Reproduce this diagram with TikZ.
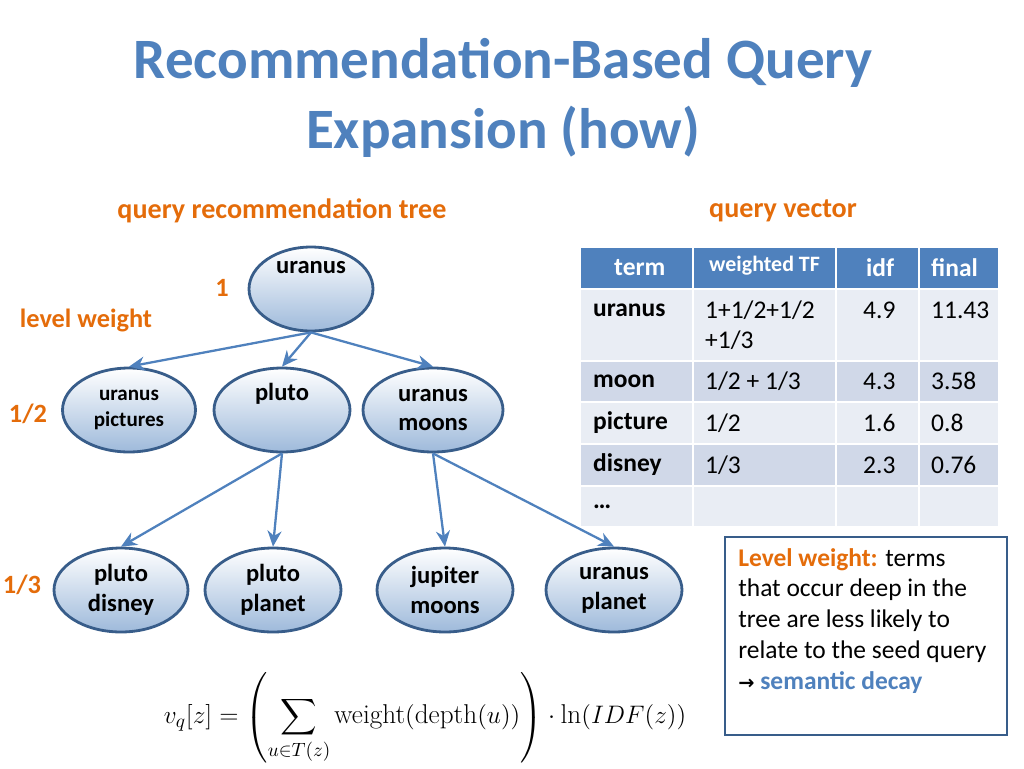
\documentclass[tikz,border=0pt]{standalone}
\usepackage{amsmath}
\usepackage{fontspec}
\setmainfont{Carlito}
\newfontfamily\lmfont{Latin Modern Roman}
\usetikzlibrary{positioning, arrows.meta, shapes.geometric}
\definecolor{titleblue}{RGB}{79,129,189}
\definecolor{edgeblue}{RGB}{56,93,138}
\definecolor{orange}{RGB}{228,108,10}
\definecolor{rowa}{RGB}{233,237,244}
\definecolor{rowb}{RGB}{208,216,232}
\begin{document}
\begin{tikzpicture}[x=0.02cm, y=-0.02cm,
    termnode/.style={ellipse, draw=edgeblue, line width=1.6pt, top color=white, bottom color=titleblue!55, minimum width=2.66cm, minimum height=1.68cm, inner sep=0pt, align=center, font=\fontsize{14}{17}\selectfont\bfseries},
    arrow/.style={-{Stealth[length=9pt,width=8pt]}, line width=1.3pt, draw=titleblue},
    weightlabel/.style={text=orange, font=\fontsize{15}{18}\selectfont\bfseries},
    cell/.style={anchor=west, font=\fontsize{14.5}{17}\selectfont}
]
\useasboundingbox (0,0) rectangle (1024,768);

% title
\node[text=titleblue, font=\fontsize{32.5}{40}\selectfont\bfseries, align=center] (title) at (503,98) {Recommendation-Based Query\\Expansion (how)};
\node[weightlabel, font=\fontsize{16}{19}\selectfont\bfseries] (treehead) at (282,211) {query recommendation tree};
\node[weightlabel, font=\fontsize{16}{19}\selectfont\bfseries] (vechead) at (783,211) {query vector};

% tree
\node[termnode, minimum width=2.48cm] (uranus) at (311,289) {uranus\\[8pt]};
\node[termnode, font=\fontsize{12}{15}\selectfont\bfseries] (upictures) at (129,410) {uranus\\pictures};
\node[termnode, minimum width=2.72cm] (pluto) at (282,410) {pluto\\[4pt]};
\node[termnode, minimum width=2.8cm] (umoons) at (433,410) {uranus\\moons};
\node[termnode, minimum width=2.68cm] (pdisney) at (121,590) {pluto\\disney};
\node[termnode, minimum width=2.72cm] (pplanet) at (273,590) {pluto\\planet};
\node[termnode, minimum width=2.72cm] (jmoons) at (445,590) {jupiter\\moons};
\node[termnode, minimum width=2.72cm] (uplanet) at (614,590) {uranus\\planet};

\draw[arrow] (uranus.south) -- (upictures.north);
\draw[arrow] (uranus.south) -- (pluto.north);
\draw[arrow] (uranus.south) -- (umoons.north);
\draw[arrow] (pluto.south) -- (pdisney.north);
\draw[arrow] (pluto.south) -- (pplanet.north);
\draw[arrow] (umoons.south) -- (jmoons.north);
\draw[arrow] (umoons.south) -- (uplanet.north);

\node[weightlabel] (w1) at (222,288) {1};
\node[weightlabel] (lw) at (86,320) {level weight};
\node[weightlabel] (w2) at (28,414) {1/2};
\node[weightlabel] (w3) at (22,585) {1/3};

% table
\fill[titleblue] (581,248) rectangle (998,289);
\fill[rowa] (581,289) rectangle (998,361);
\fill[rowb] (581,361) rectangle (998,402);
\fill[rowa] (581,402) rectangle (998,444);
\fill[rowb] (581,444) rectangle (998,486);
\fill[rowa] (581,486) rectangle (998,526);
\foreach \xx in {693,836,919} \draw[white, line width=1.5pt] (\xx,248) -- (\xx,526);
\foreach \yy in {289,361,402,444,486} \draw[white, line width=1.5pt] (581,\yy) -- (998,\yy);
\node[cell, text=white, font=\fontsize{14.5}{17}\selectfont\bfseries] (hterm) at (608,268) {term};
\node[cell, text=white, font=\fontsize{12.5}{15}\selectfont\bfseries] (htf) at (703,266) {weighted TF};
\node[cell, text=white, font=\fontsize{14.5}{17}\selectfont\bfseries] (hidf) at (860,268) {idf};
\node[cell, text=white, font=\fontsize{14.5}{17}\selectfont\bfseries] (hfinal) at (925,268) {final};
\node[cell, font=\fontsize{14.5}{17}\selectfont\bfseries] (t1) at (587,310) {uranus};
\node[cell, align=left] (f1) at (699,325) {1+1/2+1/2\\+1/3};
\node[cell] (i1) at (857,310) {4.9};
\node[cell] (r1) at (925,310) {11.43};
\node[cell, font=\fontsize{14.5}{17}\selectfont\bfseries] (t2) at (587,381) {moon};
\node[cell] (f2) at (699,381) {1/2 + 1/3};
\node[cell] (i2) at (857,381) {4.3};
\node[cell] (r2) at (925,381) {3.58};
\node[cell, font=\fontsize{14.5}{17}\selectfont\bfseries] (t3) at (587,423) {picture};
\node[cell] (f3) at (699,423) {1/2};
\node[cell] (i3) at (857,423) {1.6};
\node[cell] (r3) at (925,423) {0.8};
\node[cell, font=\fontsize{14.5}{17}\selectfont\bfseries] (t4) at (587,465) {disney};
\node[cell] (f4) at (699,465) {1/3};
\node[cell] (i4) at (857,465) {2.3};
\node[cell] (r4) at (925,465) {0.76};
\node[cell, font=\fontsize{14.5}{17}\selectfont\bfseries] (t5) at (587,507) {…};

% callout
\draw[edgeblue, line width=1.5pt, fill=white] (725,537) rectangle (1007,735);
\node[anchor=north west, align=left, font=\fontsize{14.5}{17.5}\selectfont, inner sep=0pt] (note) at (738,548)
  {\textcolor{orange}{\bfseries Level weight:} terms\\that occur deep in the\\tree are less likely to\\relate to the seed query\\{\fontspec{DejaVu Sans}\fontsize{11}{17.5}\selectfont\bfseries →} \textcolor{titleblue}{\bfseries semantic decay}};

% formula
\node[font=\fontsize{15.5}{19}\selectfont\lmfont] (formula) at (425,718)
  {$\displaystyle v_q[z] = \left(\sum_{u\in T(z)} \text{\lmfont weight}(\text{\lmfont depth}(u))\right)\cdot \text{\lmfont ln}(IDF(z))$};
\end{tikzpicture}
\end{document}
